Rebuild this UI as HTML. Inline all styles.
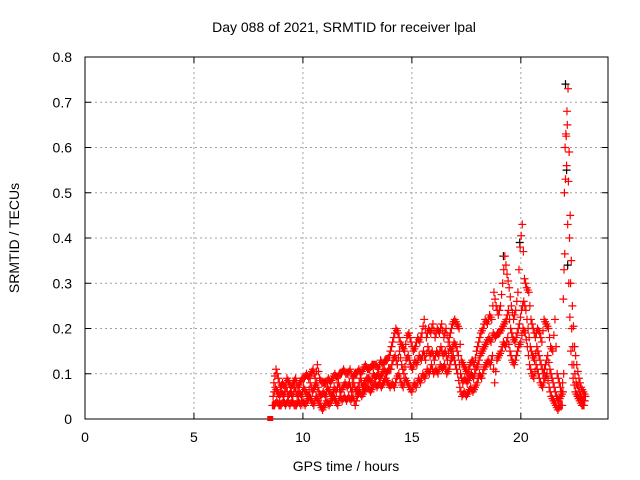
<!DOCTYPE html>
<html><head><meta charset="utf-8"><style>
body{margin:0;background:#fff;}
svg{display:block;font-family:"Liberation Sans",sans-serif;}
</style></head><body>
<svg id="chart" width="640" height="480">
<text x="344" y="32" font-size="14" text-anchor="middle">Day 088 of 2021, SRMTID for receiver lpal</text>
<text x="346" y="471" font-size="14" text-anchor="middle">GPS time / hours</text>
<text transform="translate(19,238) rotate(-90)" font-size="14" text-anchor="middle">SRMTID / TECUs</text>
<g id="grid"></g>
<g id="axes"></g>
<g id="marks"></g>
</svg>
<script>
const xTicks=[0,5,10,15,20];
const yTicks=[0,0.1,0.2,0.3,0.4,0.5,0.6,0.7,0.8];
const yTickLabels=["0","0.1","0.2","0.3","0.4","0.5","0.6","0.7","0.8"];
const tStart=8.6, tStep=0.1;
const lowVals=[0.03,0.03,0.04,0.03,
0.03,0.04,0.03,0.04,0.03,0.04,0.03,0.03,0.04,0.03,
0.04,0.03,0.04,0.05,0.04,0.03,0.05,0.04,0.03,0.02,
0.03,0.04,0.03,0.04,0.05,0.04,0.03,0.05,0.04,0.05,
0.04,0.05,0.04,0.05,0.03,0.05,0.06,0.05,0.06,0.07,
0.07,0.06,0.07,0.08,0.07,0.08,0.07,0.08,0.09,0.08,
0.07,0.08,0.07,0.09,0.1,0.08,0.07,0.09,0.08,0.07,
0.06,0.08,0.07,0.09,0.08,0.1,0.09,0.11,0.1,0.12,
0.1,0.11,0.1,0.12,0.11,0.12,0.1,0.11,0.13,0.14,
0.12,0.1,0.07,0.05,0.06,0.05,0.06,0.07,0.06,0.07,
0.08,0.1,0.09,0.11,0.12,0.13,0.12,0.14,0.08,0.13,
0.14,0.15,0.17,0.16,0.18,0.15,0.13,0.12,0.14,0.16,
0.17,0.2,0.19,0.16,0.12,0.1,0.09,0.12,0.1,0.08,
0.07,0.09,0.1,0.07,0.05,0.04,0.03,0.02,0.03,0.03,
0.5,0.56,0.3,0.15,0.09,0.06,0.05,0.04,0.03,0.03];
const midVals=[0.05,0.07,0.06,0.05,
0.06,0.05,0.07,0.05,0.06,0.05,0.07,0.05,0.06,0.05,
0.07,0.06,0.05,0.08,0.06,0.07,0.08,0.06,0.05,0.06,
0.05,0.07,0.06,0.05,0.07,0.06,0.08,0.06,0.07,0.08,
0.07,0.08,0.06,0.08,0.06,0.07,0.09,0.07,0.08,0.09,
0.09,0.08,0.1,0.09,0.1,0.09,0.1,0.11,0.1,0.11,
0.11,0.13,0.14,0.12,0.15,0.12,0.1,0.13,0.14,0.12,
0.11,0.13,0.12,0.14,0.13,0.15,0.13,0.16,0.14,0.15,
0.13,0.15,0.14,0.16,0.14,0.15,0.13,0.16,0.15,0.17,
0.16,0.14,0.1,0.08,0.09,0.08,0.09,0.1,0.09,0.11,
0.12,0.14,0.15,0.16,0.17,0.18,0.17,0.19,0.18,0.19,
0.19,0.2,0.21,0.22,0.24,0.2,0.18,0.17,0.19,0.21,
0.24,0.26,0.24,0.2,0.16,0.14,0.13,0.16,0.14,0.12,
0.1,0.12,0.14,0.11,0.09,0.07,0.05,0.04,0.05,0.06,
0.6,0.65,0.4,0.2,0.12,0.08,0.07,0.05,0.04,0.04];
const highVals=[0.08,0.11,0.09,0.07,
0.08,0.07,0.09,0.08,0.07,0.08,0.09,0.07,0.08,0.09,
0.09,0.1,0.09,0.1,0.11,0.09,0.12,0.09,0.08,0.08,
0.08,0.09,0.08,0.09,0.1,0.09,0.1,0.1,0.11,0.1,
0.1,0.11,0.09,0.1,0.1,0.11,0.1,0.11,0.12,0.11,
0.11,0.12,0.12,0.12,0.11,0.13,0.12,0.13,0.13,0.14,
0.16,0.18,0.2,0.19,0.17,0.16,0.15,0.18,0.19,0.17,
0.15,0.16,0.18,0.17,0.19,0.22,0.18,0.2,0.19,0.21,
0.18,0.2,0.19,0.21,0.18,0.2,0.17,0.19,0.21,0.22,
0.21,0.2,0.13,0.12,0.11,0.1,0.12,0.13,0.12,0.15,
0.17,0.19,0.2,0.22,0.21,0.23,0.22,0.28,0.25,0.23,
0.25,0.3,0.36,0.32,0.29,0.25,0.22,0.24,0.28,0.38,
0.43,0.31,0.29,0.28,0.22,0.2,0.18,0.2,0.19,0.17,
0.22,0.21,0.2,0.16,0.15,0.22,0.1,0.08,0.06,0.1,
0.63,0.73,0.45,0.25,0.16,0.12,0.09,0.07,0.06,0.05];
const blackTimes=[19.2,19.95,22.05,22.1,22.15];
const blackVals=[0.36,0.39,0.74,0.55,0.34];

const X0=85,X1=608,Y0=419,Y1=57;
function xs(t){return X0+(t/24)*(X1-X0);}
function ys(v){return Y0-(v/0.8)*(Y0-Y1);}
const NS="http://www.w3.org/2000/svg";
function mk(tag,attrs,parent){const e=document.createElementNS(NS,tag);for(const k in attrs)e.setAttribute(k,attrs[k]);parent.appendChild(e);return e;}
const grid=document.getElementById('grid'),axes=document.getElementById('axes'),marks=document.getElementById('marks');
xTicks.forEach(t=>{
  const x=xs(t);
  if(t>0){const g=mk('line',{x1:x,y1:Y0,x2:x,y2:Y1,stroke:'#a0a0a0','stroke-dasharray':'2,3'},grid);
  
  }
  mk('line',{x1:x,y1:Y0,x2:x,y2:Y0-6,stroke:'#000'},axes);
  mk('line',{x1:x,y1:Y1,x2:x,y2:Y1+6,stroke:'#000'},axes);
  const l=mk('text',{x:x,y:Y0+23,'font-size':14,'text-anchor':'middle'},axes);
  l.textContent=t;
  
  
});
yTicks.forEach((v,i)=>{
  const y=ys(v);
  if(i>0&&i<yTicks.length-1){const g=mk('line',{x1:X0,y1:y,x2:X1,y2:y,stroke:'#a0a0a0','stroke-dasharray':'2,3'},grid);
  
  }
  mk('line',{x1:X0,y1:y,x2:X0+6,y2:y,stroke:'#000'},axes);
  mk('line',{x1:X1,y1:y,x2:X1-6,y2:y,stroke:'#000'},axes);
  const l=mk('text',{x:X0-13,y:y+5,'font-size':14,'text-anchor':'end'},axes);
  l.textContent=yTickLabels[i];
  
  
});
const b=mk('rect',{x:X0,y:Y1,width:X1-X0,height:Y0-Y1,fill:'none',stroke:'#000'},axes);


function cross(t,v,col){
  const x=xs(t),y=ys(v);
  const p=mk('path',{d:`M${x-4},${y}H${x+4}M${x},${y-4}V${y+4}`,stroke:col,'stroke-width':1.2,fill:'none'},marks);
  
  
}
blackTimes.forEach((t,i)=>cross(t,blackVals[i],'#000'));
[[lowVals,0],[midVals,0.033],[highVals,0.066]].forEach(([arr,off])=>{
  arr.forEach((v,i)=>{
    const t=tStart+i*tStep+off;
    cross(t,v,'#f00');
    if(i+1<arr.length) cross(t+0.05,(v+arr[i+1])/2,'#f00');
  });
});
const sq=mk('rect',{x:xs(8.5)-3,y:ys(0)-3,width:6,height:5,fill:'#f00'},marks);


</script>
</body></html>
